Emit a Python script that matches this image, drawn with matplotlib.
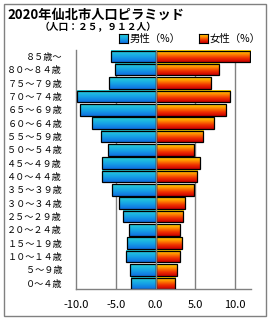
import numpy as np
import matplotlib
matplotlib.use("Agg")
import matplotlib.pyplot as plt
from matplotlib.colors import LinearSegmentedColormap
from matplotlib.patches import Rectangle

plt.rcParams["font.family"] = ["Noto Sans CJK JP", "DejaVu Sans"]

# age groups from youngest (bottom) to oldest (top)
age_groups = ["０～４歳", "５～９歳", "１０～１４歳", "１５～１９歳", "２０～２４歳",
              "２５～２９歳", "３０～３４歳", "３５～３９歳", "４０～４４歳", "４５～４９歳",
              "５０～５４歳", "５５～５９歳", "６０～６４歳", "６５～６９歳", "７０～７４歳",
              "７５～７９歳", "８０～８４歳", "８５歳～"]
male_pct = [3.04, 3.16, 3.67, 3.54, 3.29, 4.05, 4.56, 5.44, 6.71, 6.71,
            5.95, 6.84, 7.97, 9.49, 9.87, 5.82, 5.14, 5.57]
female_pct = [2.41, 2.66, 3.04, 3.29, 3.04, 3.42, 3.67, 4.81, 5.19, 5.57,
              4.81, 5.95, 7.34, 8.91, 9.37, 6.96, 7.97, 11.9]
xticks = [-10, -5, 0, 5, 10]
xtick_labels = ["-10.0", "-5.0", "0.0", "5.0", "10.0"]

# bottom -> top colours
male_cmap = LinearSegmentedColormap.from_list("m", ["#0f6fe0", "#17a6e6", "#2ad2d6"])
female_cmap = LinearSegmentedColormap.from_list("f", ["#c80000", "#f03000", "#ff8a00", "#ffdc00"])
grad = np.linspace(0, 1, 64).reshape(-1, 1)

W, H = 271, 320
fig = plt.figure(figsize=(W / 100, H / 100), dpi=100)

# outer frame
fig.patches.append(Rectangle((4 / W, 4 / H), 262 / W, 312 / H, transform=fig.transFigure,
                             fill=False, edgecolor="#808080", linewidth=1.0))

ax = fig.add_axes([76 / W, (H - 289) / H, 175 / W, 239 / H])

y = np.arange(len(age_groups))
bh = 0.86


def gradient_bars(values, cmap):
    bars = ax.barh(y, values, height=bh, color="none", edgecolor="black",
                   linewidth=0.9, zorder=3)
    for b in bars:
        x0, y0 = b.get_x(), b.get_y()
        x1, y1 = x0 + b.get_width(), y0 + b.get_height()
        ax.imshow(grad, cmap=cmap, origin="lower", aspect="auto",
                  extent=[min(x0, x1), max(x0, x1), y0, y1], zorder=2,
                  interpolation="bilinear")


gradient_bars(-np.array(male_pct), male_cmap)
gradient_bars(female_pct, female_cmap)

ax.set_xlim(-10, 12)
ax.set_ylim(-bh / 2, len(age_groups) - 1 + bh / 2 + 0.05)

for v in [-5, 5, 10]:
    ax.axvline(v, color="#808080", linewidth=1.0, zorder=1)
ax.axvline(0, color="#808080", linewidth=1.0, zorder=4)

ax.set_xticks(xticks)
ax.set_xticklabels(xtick_labels, fontsize=8)
ax.set_yticks(y)
ax.set_yticklabels(age_groups, fontsize=6.6)
ax.tick_params(axis="both", length=0)
ax.tick_params(axis="y", pad=10)
ax.tick_params(axis="x", pad=8)

for s in ["top", "right"]:
    ax.spines[s].set_visible(False)
for s in ["left", "bottom"]:
    ax.spines[s].set_color("#808080")
    ax.spines[s].set_linewidth(1.0)

fig.text(7 / W, 1 - 15 / H, "2020年仙北市人口ピラミッド", fontsize=9.5,
         fontweight="bold", ha="left", va="center")
fig.text(40 / W, 1 - 27 / H, "（人口：２５，９１２人）", fontsize=7,
         fontweight="bold", ha="left", va="center")

# legend
for lx, cmap, label in [(119, male_cmap, "男性（%）"), (199, female_cmap, "女性（%）")]:
    lax = fig.add_axes([lx / W, (H - 43) / H, 9 / W, 9 / H])
    lax.imshow(grad, cmap=cmap, origin="lower", aspect="auto")
    lax.set_xticks([])
    lax.set_yticks([])
    for sp in lax.spines.values():
        sp.set_linewidth(0.8)
    fig.text((lx + 11) / W, 1 - 38.5 / H, label, fontsize=7.5, ha="left", va="center")

fig.savefig("out.png", dpi=100)
